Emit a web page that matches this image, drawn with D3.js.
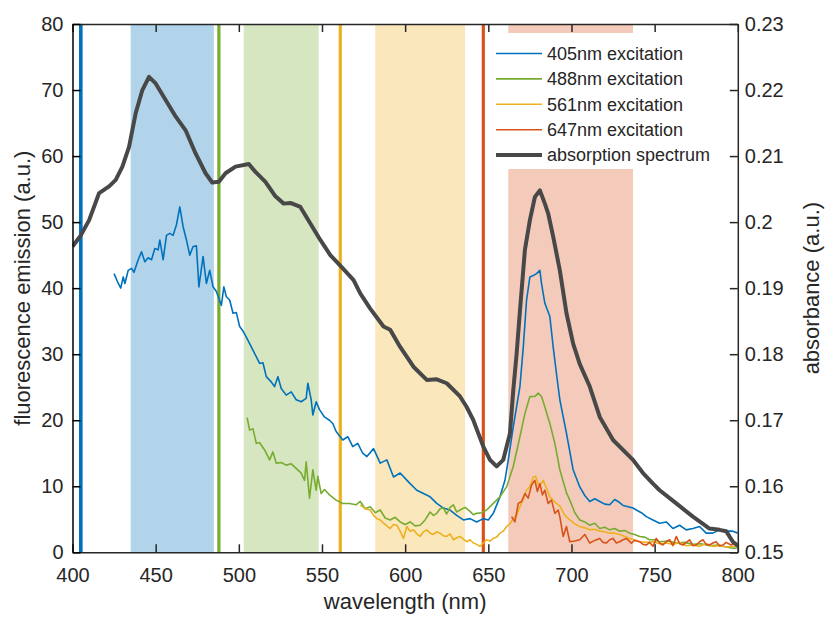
<!DOCTYPE html>
<html lang="en">
<head>
<meta charset="UTF-8">
<title>Fluorescence and absorption spectra</title>
<script src="https://cdn.jsdelivr.net/npm/d3@7/dist/d3.min.js"></script>
<style>
    body { margin: 0; background: #fff; }
    svg text { font-family: "Liberation Sans", Arial, sans-serif; fill: #262626; }
</style>
</head>
<body>
<svg id="chart" width="825" height="619"></svg>
<script>
    // tick labels
    let xTicks = [400, 450, 500, 550, 600, 650, 700, 750, 800];
    let yLeftTicks = [0, 10, 20, 30, 40, 50, 60, 70, 80];
    let yRightTicks = [0.15, 0.16, 0.17, 0.18, 0.19, 0.2, 0.21, 0.22, 0.23];

    // excitation lasers (nm) and detection bands [from, to] (nm)
    let laserLines = [405, 488, 561, 647];
    let bands = [[435, 485], [503, 548], [582, 636], [662, 737]];
    let colours = ["#0072BD", "#77AC30", "#EDB120", "#D95319"];
    let legendNames = ["405nm excitation", "488nm excitation", "561nm excitation", "647nm excitation", "absorption spectrum"];

    // fluorescence emission, [wavelength, a.u.]
    let ex405 = [[425,42.2],[427,41.0],[429,40.0],[430.5,41.7],[431.5,40.7],[433.5,42.7],[435.5,43.0],[437,42.4],
        [439.5,44.3],[441.5,45.5],[443.5,44.0],[445.5,44.6],[447.5,44.3],[449.5,46.0],[451.5,45.8],[452.5,47.3],
        [454.5,44.3],[456.5,48.0],[458.5,48.3],[460.5,48.0],[462.5,49.6],[464.5,52.3],[466.5,49.3],[468.5,47.3],
        [470.5,45.0],[472.5,46.3],[474.5,46.4],[476,40.2],[478.5,44.8],[480.5,40.7],[482.5,42.7],[484.5,40.2],
        [486.5,39.5],[489.5,37.4],[491,40.2],[492.5,38.7],[494.5,38.2],[496.5,36.2],[498.5,36.3],[500.5,34.2],
        [502.5,33.5],[504.5,32.6],[508.5,30.6],[512.5,28.6],[514.5,28.7],[516.5,26.6],[519.5,25.8],[521.5,25.1],
        [523.5,26.6],[525.5,24.8],[528.5,23.8],[531.5,24.3],[534.5,23.1],[537.5,22.8],[540.5,23.3],[541.5,25.6],
        [543.5,23.1],[544.5,20.8],[546.5,22.8],[548.5,21.6],[551.5,20.5],[554.5,20.0],[556.5,19.5],[558.5,18.3],
        [562.5,17.0],[565.5,17.5],[568.5,16.0],[571.5,16.5],[574.5,15.0],[577,14.5],[581,15.7],[585,13.5],
        [589,14.0],[593,11.4],[597,12.0],[600,11.2],[603,10.4],[607,9.4],[611,8.9],[615,8.4],[619,7.4],[623,6.7],
        [627,6.4],[631,5.6],[635,4.9],[639,5.1],[643,4.6],[647,5.1],[650,4.9],[653,5.9],[657,8.4],[660,10.9],
        [662,14.0],[665,19.0],[669,25.1],[671,31.0],[673,38.2],[675,41.7],[677,41.9],[679,42.2],[681,42.7],
        [682,40.7],[684,37.7],[687,35.7],[689,31.1],[691,27.0],[693,23.1],[697,18.0],[701,12.5],[705,9.9],
        [708,8.6],[711,7.7],[714,8.1],[717,7.7],[720,7.3],[723,7.2],[726,8.0],[728,7.7],[731,7.1],[734,6.9],
        [737,6.7],[739,6.4],[742,6.0],[745,5.4],[749,4.9],[753,4.4],[757,4.6],[761,3.6],[765,4.1],[769,3.4],
        [773,3.6],[777,3.9],[781,2.9],[785,2.9],[789,3.4],[793,3.2],[797,3.2],[800,2.9]];
    let ex488 = [[505,20.4],[506.5,18.5],[508.5,18.7],[510.5,16.5],[512.5,16.6],[515.5,15.5],[518.5,14.0],
        [520.5,15.2],[522.5,13.5],[525.5,13.6],[528.5,13.2],[531.5,13.4],[534.5,12.7],[537.5,12.0],[539.5,10.9],
        [540.5,13.7],[542.5,8.2],[544.5,12.5],[546.5,9.4],[547.5,11.5],[549.5,8.9],[551.5,9.5],[554.5,8.7],
        [558.5,7.9],[562.5,7.4],[566.5,7.4],[570.5,7.2],[573,7.7],[576,6.6],[579,6.9],[582,6.0],[585,6.4],
        [588,5.2],[591,4.9],[594,5.3],[597,4.6],[600,4.2],[603,4.6],[606,4.0],[609,4.1],[612,4.9],[615,6.1],
        [617,5.6],[619,5.9],[621,6.6],[623,6.7],[625,5.8],[627,6.8],[629,7.2],[631,6.1],[633,6.4],[636,6.8],
        [639,6.2],[641,5.7],[643,5.9],[646,6.0],[649,6.4],[653,7.4],[657,8.4],[661,9.9],[665,13.0],[669,17.5],
        [672,21.0],[675,23.6],[678,23.6],[680,24.1],[682,23.6],[684,22.0],[687,19.5],[690,16.5],[693,12.5],
        [697,9.0],[699,7.9],[702,6.0],[705,4.9],[708,4.6],[711,4.1],[714,4.4],[717,3.6],[720,3.8],[723,3.4],
        [726,3.6],[729,3.2],[732,3.3],[735,2.9],[738,2.7],[741,2.4],[744,2.3],[747,1.9],[750,1.9],[753,1.6],
        [758,1.7],[763,1.4],[768,1.5],[773,1.2],[778,1.3],[783,1.0],[788,1.1],[793,0.8],[797,0.6],[800,0.7]];
    let ex561 = [[573,7.2],[576,6.6],[579,6.4],[581,5.6],[583,5.1],[585,4.9],[587,4.4],[589,4.0],[591,3.6],
        [593,4.2],[595,4.1],[597,3.2],[599,2.1],[601,3.9],[603,3.2],[605,3.4],[607,2.8],[609,2.4],[611,3.1],
        [613,3.4],[615,2.9],[617,2.7],[619,3.1],[621,2.9],[623,2.5],[625,2.4],[627,2.8],[629,1.9],[631,2.2],
        [633,2.4],[635,2.0],[637,1.6],[639,1.9],[641,1.4],[643,1.2],[645,0.9],[647,1.4],[649,1.9],[651,1.7],
        [653,2.1],[655,2.3],[657,2.9],[659,3.2],[661,3.9],[663,4.3],[665,5.1],[667,5.6],[669,6.9],[671,8.0],
        [673,9.4],[675,9.9],[677,11.4],[678.5,11.5],[680.5,9.9],[683,10.9],[685,9.7],[687,8.4],[690,7.6],
        [693,7.0],[696,5.6],[699,4.9],[702,4.3],[705,3.9],[708,3.7],[711,3.4],[714,3.5],[717,3.2],[720,3.1],
        [723,2.9],[726,2.9],[729,2.7],[732,2.4],[735,2.1],[738,1.9],[741,1.6],[745,1.5],[749,1.6],[753,1.3],
        [757,1.4],[761,1.2],[765,1.5],[769,1.0],[773,1.1],[777,0.9],[781,1.3],[785,0.9],[789,1.0],[793,0.8],
        [797,0.9],[800,1.0]];
    let ex647 = [[664,5.4],[666,4.6],[668,7.4],[670,7.7],[672,8.9],[674,8.2],[676,10.2],[678,10.9],[679.5,9.2],
        [681,10.4],[682.5,8.7],[684,9.4],[686,7.4],[688,7.9],[690,5.9],[692,6.4],[693,5.4],[695,2.4],[697,3.9],
        [699,1.6],[702,1.7],[705,1.9],[708,2.7],[711,1.4],[714,1.8],[717,2.1],[719,1.5],[721,1.4],[723,1.9],
        [725,2.1],[727,1.4],[729,1.6],[731,1.9],[733,2.1],[736,1.4],[738,1.8],[741,1.6],[743,1.2],[745,1.1],
        [747,1.5],[749,0.9],[751,2.1],[753,1.4],[755,1.1],[757,1.6],[759,1.9],[761,1.0],[763,2.4],[765,1.3],
        [767,1.1],[769,1.5],[771,1.9],[773,1.0],[775,1.1],[777,1.6],[779,1.9],[781,1.2],[783,1.1],[785,1.4],
        [787,1.6],[789,1.0],[791,1.1],[793,1.5],[796,1.1],[798,1.4]];

    // absorption, [wavelength, absorbance]
    let absorption = [[400,0.1963],[405,0.1980],[410,0.2003],[416,0.2044],[422,0.2054],[426,0.2064],[430,0.2084],
        [434,0.2114],[438,0.2165],[442,0.2200],[446,0.2220],[450,0.2210],[456,0.2185],[462,0.2160],[468,0.2139],
        [474,0.2104],[480,0.2074],[484,0.2060],[488,0.2061],[492,0.2074],[498,0.2084],[506,0.2088],[510,0.2076],
        [516,0.2061],[522,0.2039],[527,0.2028],[531,0.2029],[537,0.2023],[543,0.1998],[549,0.1973],[555,0.1950],
        [561,0.1934],[569,0.1912],[573,0.1892],[579,0.1869],[587,0.1842],[591,0.1837],[597,0.1811],[605,0.1781],
        [613,0.1761],[619,0.1762],[625,0.1756],[633,0.1736],[637,0.1720],[641,0.1700],[647,0.1660],[651,0.1640],
        [655,0.1630],[659,0.1640],[663,0.1680],[665,0.1745],[667,0.1800],[669,0.1865],[672,0.1958],[675,0.2003],
        [678,0.2038],[681,0.2048],[684,0.2028],[686,0.2013],[689,0.1978],[693,0.1927],[697,0.1862],[701,0.1816],
        [705,0.1785],[711,0.1751],[717,0.1705],[725,0.1670],[737,0.1640],[743,0.1620],[749,0.1604],[753,0.1594],
        [763,0.1574],[773,0.1554],[783,0.1536],[789,0.1534],[793,0.1532],[797,0.1516],[800,0.1510]];

    let svg = d3.select('svg#chart');
    let plot = {left: 72.5, right: 737.8, top: 24, bottom: 552.3};

    let xScale = d3.scaleLinear().domain([400, 800]).range([plot.left, plot.right]);
    let yLeft = d3.scaleLinear().domain([0, 80]).range([plot.bottom, plot.top]);
    let yRight = d3.scaleLinear().domain([0.15, 0.23]).range([plot.bottom, plot.top]);

    svg.append('clipPath').attr('id', 'clip')
        .append('rect')
        .attr('x', plot.left).attr('y', plot.top)
        .attr('width', plot.right - plot.left).attr('height', plot.bottom - plot.top);

    let g = svg.append('g').attr('clip-path', 'url(#clip)');

    // detection bands
    g.selectAll('rect.band')
        .data(bands)
        .enter()
        .append('rect')
        .attr('class', 'band')
        .attr('x', function(d){return xScale(d[0]);})
        .attr('width', function(d){return xScale(d[1]) - xScale(d[0]);})
        .attr('y', plot.top)
        .attr('height', plot.bottom - plot.top)
        .style('fill', function(d,i){return colours[i];})
        .style('fill-opacity', 0.3);

    // laser lines
    g.selectAll('line.laser')
        .data(laserLines)
        .enter()
        .append('line')
        .attr('class', 'laser')
        .attr('x1', function(d){return xScale(d);})
        .attr('x2', function(d){return xScale(d);})
        .attr('y1', plot.top).attr('y2', plot.bottom)
        .style('stroke', function(d,i){return colours[i];})
        .style('stroke-width', function(d,i){return i == 0 ? 3.6 : 3.2;});

    let emLine = d3.line()
        .x(function(d){return xScale(d[0]);})
        .y(function(d){return yLeft(d[1]);});

    g.selectAll('path.em')
        .data([ex405, ex488, ex561, ex647])
        .enter()
        .append('path')
        .attr('class', 'em')
        .attr('d', emLine)
        .style('fill', 'none')
        .style('stroke', function(d,i){return colours[i];})
        .style('stroke-width', 1.6)
        .style('stroke-linejoin', 'round');

    let absLine = d3.line()
        .x(function(d){return xScale(d[0]);})
        .y(function(d){return yRight(d[1]);});

    g.append('path')
        .datum(absorption)
        .attr('d', absLine)
        .style('fill', 'none')
        .style('stroke', '#484848')
        .style('stroke-width', 4)
        .style('stroke-linejoin', 'round');

    // legend
    let legend = svg.append('g');
    legend.append('rect')
        .attr('x', 486).attr('y', 33)
        .attr('width', 238).attr('height', 136)
        .style('fill', '#fff');
    let rows = legend.selectAll('g.row')
        .data(legendNames)
        .enter()
        .append('g')
        .attr('class', 'row')
        .attr('transform', function(d,i){return 'translate(496,' + (53.5 + i * 25.4) + ')';});
    rows.append('line')
        .attr('x1', 0).attr('x2', 46)
        .style('stroke', function(d,i){return i < 4 ? colours[i] : '#484848';})
        .style('stroke-width', function(d,i){return i < 4 ? 1.6 : 4;});
    rows.append('text')
        .attr('x', 51).attr('dy', '0.35em')
        .style('font-size', '18px')
        .text(function(d){return d;});

    // axes
    let xAxis = svg.append('g')
        .attr('transform', 'translate(0,' + plot.bottom + ')')
        .call(d3.axisBottom(xScale).tickValues(xTicks).tickSizeInner(-8).tickSizeOuter(0).tickPadding(16));
    let xTop = svg.append('g')
        .attr('transform', 'translate(0,' + plot.top + ')')
        .call(d3.axisTop(xScale).tickValues(xTicks).tickSizeInner(-8).tickSizeOuter(0).tickFormat(''));
    let yAxisLeft = svg.append('g')
        .attr('transform', 'translate(' + plot.left + ',0)')
        .call(d3.axisLeft(yLeft).tickValues(yLeftTicks).tickSizeInner(-8).tickSizeOuter(0).tickPadding(9));
    let yAxisRight = svg.append('g')
        .attr('transform', 'translate(' + plot.right + ',0)')
        .call(d3.axisRight(yRight).tickValues(yRightTicks).tickSizeInner(-8).tickSizeOuter(0).tickPadding(7)
            .tickFormat(function(d){return String(+d.toFixed(2));}));

    [xAxis, xTop, yAxisRight].forEach(function(a){
        a.select('.domain').style('stroke', '#262626').style('stroke-width', 1.5);
        a.selectAll('.tick line').style('stroke', '#262626').style('stroke-width', 1.5);
    });
    yAxisLeft.select('.domain').style('stroke', '#000').style('stroke-width', 1.5);
    yAxisLeft.selectAll('.tick line').style('stroke', '#000').style('stroke-width', 1.5);
    svg.selectAll('.tick text')
        .style('font-size', '20px')
        .style('font-family', '"Liberation Sans", Arial, sans-serif')
        .style('fill', '#262626');

    // axis titles
    svg.append('text')
        .attr('x', (plot.left + plot.right) / 2).attr('y', 609)
        .attr('text-anchor', 'middle')
        .style('font-size', '22px')
        .text('wavelength (nm)');
    svg.append('text')
        .attr('transform', 'translate(29.5,' + (plot.top + plot.bottom) / 2 + ') rotate(-90)')
        .attr('text-anchor', 'middle')
        .style('font-size', '22px')
        .text('fluorescence emission (a.u.)');
    svg.append('text')
        .attr('transform', 'translate(819,' + (plot.top + plot.bottom) / 2 + ') rotate(-90)')
        .attr('text-anchor', 'middle')
        .style('font-size', '22px')
        .text('absorbance (a.u.)');
</script>
</body>
</html>
